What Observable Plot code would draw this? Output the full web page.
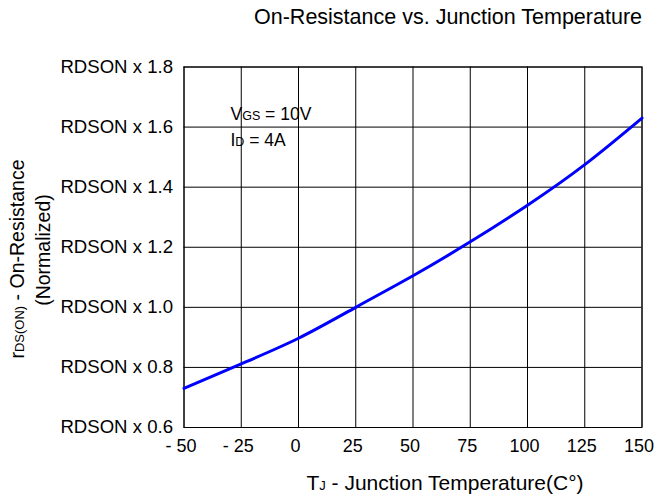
<!DOCTYPE html>
<html>
<head>
<meta charset="utf-8">
<script src="https://cdn.jsdelivr.net/npm/d3@7"></script>
<script src="https://cdn.jsdelivr.net/npm/@observablehq/plot@0.6"></script>
<style>
  body { margin: 0; background: #fff; font-family: "Liberation Sans", Arial, sans-serif; }
  #title { width: 667px; height: 45px; box-sizing: border-box; padding-right: 25px; text-align: right;
           font-size: 21.5px; line-height: 35px; color: #000; white-space: nowrap; }
  #chart svg { display: block; }
</style>
</head>
<body>
<div id="title">On-Resistance vs. Junction Temperature</div>
<div id="chart"></div>
<script>
// Data
const temps = [-50, -25, 0, 25, 50, 75, 100, 125, 150];
const rdson = [0.73, 0.812, 0.897, 1.0, 1.105, 1.218, 1.34, 1.475, 1.63];
const xTicks = [-50, -25, 0, 25, 50, 75, 100, 125, 150];
const xTickLabels = ["- 50", "- 25", "0", "25", "50", "75", "100", "125", "150"];
const yTicks = [0.6, 0.8, 1.0, 1.2, 1.4, 1.6, 1.8];
const yTickLabels = ["RDSON x 0.6", "RDSON x 0.8", "RDSON x 1.0", "RDSON x 1.2", "RDSON x 1.4", "RDSON x 1.6", "RDSON x 1.8"];

const data = temps.map((t, i) => ({t, r: rdson[i]}));
const font = "Liberation Sans, Arial, sans-serif";

const chart = Plot.plot({
  width: 667,
  height: 452,
  marginLeft: 183.5,
  marginRight: 25.5,
  marginTop: 21.5,
  marginBottom: 70,
  style: {fontFamily: font, fontSize: "18px", color: "#000", background: "#fff", overflow: "visible"},
  x: {domain: [-50, 150]},
  y: {domain: [0.6, 1.8]},
  marks: [
    Plot.gridX(xTicks, {stroke: "#000", strokeOpacity: 1, strokeWidth: 1}),
    Plot.gridY(yTicks, {stroke: "#000", strokeOpacity: 1, strokeWidth: 1}),
    Plot.frame({stroke: "#000", strokeWidth: 1}),
    Plot.axisX(xTicks, {tickSize: 0, tickPadding: 12, label: null, fontSize: 18, dx: -3,
      tickFormat: d => xTickLabels[xTicks.indexOf(d)]}),
    Plot.axisY(yTicks, {tickSize: 0, tickPadding: 11, label: null, fontSize: 18.6,
      tickFormat: d => yTickLabels[yTicks.findIndex(v => Math.abs(v - d) < 1e-9)]}),
    Plot.line(data, {x: "t", y: "r", curve: "natural", stroke: "#0000ff", strokeWidth: 3}),
    Plot.text(["VGS = 10V"], {x: -29.7, y: 1.6436, text: d => d, textAnchor: "start", fontSize: 17.5, fill: "#000"}),
    Plot.text(["ID = 4A"], {x: -29.7, y: 1.5553, text: d => d, textAnchor: "start", fontSize: 17.5, fill: "#000"})
  ]
});

document.getElementById("chart").appendChild(chart);

const svg = d3.select(chart);
// Subscripts in the annotations
svg.selectAll("text").each(function() {
  const el = d3.select(this);
  const t = el.text();
  if (t === "VGS = 10V") {
    el.text(null);
    el.append("tspan").text("V");
    el.append("tspan").attr("font-size", 12.5).text("GS");
    el.append("tspan").text(" = 10V");
  } else if (t === "ID = 4A") {
    el.text(null);
    el.append("tspan").text("I");
    el.append("tspan").attr("font-size", 12.5).text("D");
    el.append("tspan").text(" = 4A");
  }
});

// X axis title
const xl = svg.append("text")
  .attr("x", 445).attr("y", 445)
  .attr("text-anchor", "middle")
  .attr("font-family", font).attr("font-size", 21).attr("fill", "#000");
xl.append("tspan").text("T");
xl.append("tspan").attr("font-size", 13).text("J");
xl.append("tspan").text(" - Junction Temperature(C°)");

// Y axis title (two lines, rotated)
const yl1 = svg.append("text")
  .attr("transform", "translate(24,214) rotate(-90)")
  .attr("text-anchor", "middle")
  .attr("font-family", font).attr("font-size", 19.5).attr("fill", "#000");
yl1.append("tspan").text("r");
yl1.append("tspan").attr("font-size", 13).text("DS(ON)");
yl1.append("tspan").text(" - On-Resistance");

svg.append("text")
  .attr("transform", "translate(50,205) rotate(-90)")
  .attr("text-anchor", "middle")
  .attr("font-family", font).attr("font-size", 19.5).attr("fill", "#000")
  .text("(Normalized)");
</script>
</body>
</html>
